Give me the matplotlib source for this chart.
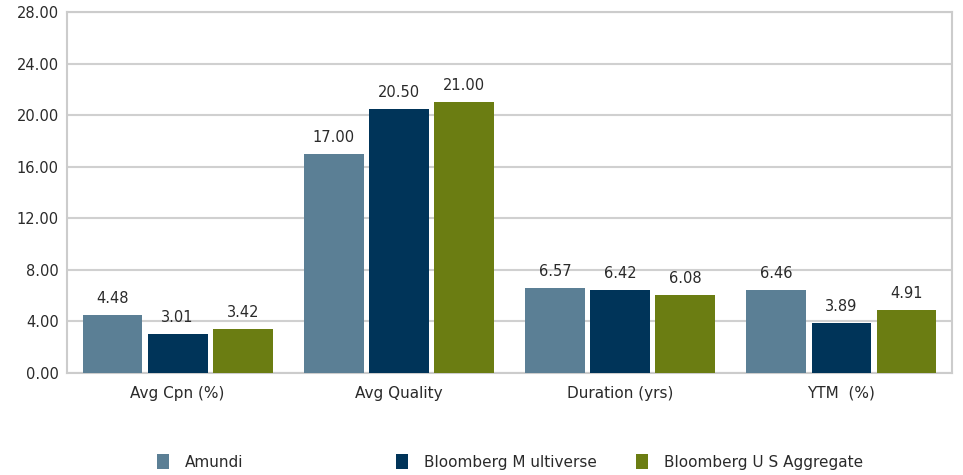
import matplotlib
matplotlib.use("Agg")
import matplotlib.pyplot as plt
import numpy as np
from matplotlib.patches import Patch

categories = ["Avg Cpn (%)", "Avg Quality", "Duration (yrs)", "YTM  (%)"]
series = ["Amundi", "Bloomberg M ultiverse", "Bloomberg U S Aggregate"]
amundi = [4.48, 17.00, 6.57, 6.46]
multiverse = [3.01, 20.50, 6.42, 3.89]
aggregate = [3.42, 21.00, 6.08, 4.91]
yticks = [0, 4, 8, 12, 16, 20, 24, 28]

colors = ["#5B7F95", "#003459", "#6B7D12"]

plt.rcParams['font.family'] = ['DejaVu Sans']

fig = plt.figure(figsize=(9.63, 4.75), dpi=100)
ax = fig.add_axes([0.0696, 0.2147, 0.9190, 0.7600])

x = np.arange(len(categories))
w = 0.27
step = 0.294
for i, (vals, c) in enumerate(zip([amundi, multiverse, aggregate], colors)):
    pos = x + (i - 1) * step
    ax.bar(pos, vals, width=w, color=c, zorder=3, label=series[i])
    for p, v in zip(pos, vals):
        ax.text(p, v + 0.7, f"{v:.2f}", ha="center", va="bottom", fontsize=10.5, color="#2a2a2a")

ax.set_xlim(-0.5, len(categories) - 0.5)
ax.set_ylim(0, 28)
ax.set_yticks(yticks)
ax.set_yticklabels([f"{t:.2f}" for t in yticks], fontsize=10.5, color="#2a2a2a")
ax.set_xticks(x)
ax.set_xticklabels(categories, fontsize=11, color="#2a2a2a")
ax.tick_params(axis="x", length=0, pad=9)
ax.tick_params(axis="y", length=0, pad=6)
ax.yaxis.grid(True, color="#D0D0D0", linewidth=1.5, zorder=0)
for s in ax.spines.values():
    s.set_color("#CCCCCC")
    s.set_linewidth(1.5)

legend_x = [157, 396, 636]
for name, c, lx in zip(series, colors, legend_x):
    fig.legend([Patch(facecolor=c)], [name], loc="center left",
               bbox_to_anchor=(lx / 963, 13 / 475), frameon=False,
               fontsize=11, handlelength=0.8, handleheight=1.1,
               handletextpad=1.0, borderpad=0, borderaxespad=0,
               labelcolor="#2a2a2a")

fig.savefig("out.png", dpi=100, facecolor="white")
